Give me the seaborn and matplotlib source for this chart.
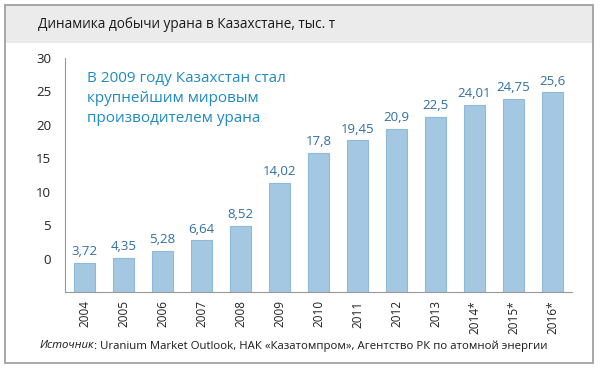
import numpy as np
import pandas as pd
import matplotlib.pyplot as plt
import seaborn as sns
from matplotlib.patches import Rectangle

# Data
years = ["2004", "2005", "2006", "2007", "2008", "2009", "2010",
         "2011", "2012", "2013", "2014*", "2015*", "2016*"]
output_kt = [3.72, 4.35, 5.28, 6.64, 8.52, 14.02, 17.8,
             19.45, 20.9, 22.5, 24.01, 24.75, 25.6]
value_labels = ["3,72", "4,35", "5,28", "6,64", "8,52", "14,02", "17,8",
                "19,45", "20,9", "22,5", "24,01", "24,75", "25,6"]
y_tick_labels = ["", "0", "5", "10", "15", "20", "25", "30"]

title = "Динамика добычи урана в Казахстане, тыс. т"
note = "В 2009 году Казахстан стал\nкрупнейшим мировым\nпроизводителем урана"
source_head = "Источник"
source_rest = ": Uranium Market Outlook, НАК «Казатомпром», Агентство РК по атомной энергии"

df = pd.DataFrame({"year": years, "value": output_kt})

sns.set_style("white")
plt.rcParams["font.family"] = ["Open Sans", "DejaVu Sans"]

fig = plt.figure(figsize=(6, 3.72), dpi=100)

# frame and title band
fig.patches.append(Rectangle((5 / 600, 1 - 43 / 372), 588 / 600, 38 / 372,
                             transform=fig.transFigure, facecolor="#ebebeb",
                             edgecolor="none", zorder=0))
fig.patches.append(Rectangle((5 / 600, 1 - 363 / 372), 588 / 600, 358 / 372,
                             transform=fig.transFigure, facecolor="none",
                             edgecolor="#a0a0a0", linewidth=1.3, zorder=1))

ax = fig.add_axes([65 / 600, 80 / 372, 507 / 600, 234 / 372])
sns.barplot(data=df, x="year", y="value", color="#a5c8e2", width=0.54,
            saturation=1, edgecolor="#8fb9da", linewidth=0.8, ax=ax)

ax.set_xlim(-0.5, len(years) - 0.5)
ax.set_ylim(0, 30)
ax.set_yticks(np.linspace(0, 30, 8))
ax.set_yticklabels(y_tick_labels, fontsize=9.5, color="#222222")
ax.set_xticks(range(len(years)))
ax.set_xticklabels(years, rotation=90, fontsize=8.5, color="#222222")
ax.set_xticks(np.arange(-0.5, len(years)), minor=True)
ax.tick_params(axis="x", which="major", length=0, pad=6)
ax.tick_params(axis="x", which="minor", length=4, color="#999999", width=0.8)
ax.tick_params(axis="y", length=4, color="#999999", width=0.8, pad=6)
ax.set_xlabel("")
ax.set_ylabel("")

for side in ["top", "right"]:
    ax.spines[side].set_visible(False)
for side in ["left", "bottom"]:
    ax.spines[side].set_color("#999999")
    ax.spines[side].set_linewidth(0.8)

for i, (v, lab) in enumerate(zip(output_kt, value_labels)):
    ax.text(i, v + 0.6, lab, ha="center", va="bottom", fontsize=9.5,
            color="#2f6fa6")

fig.text(87 / 600, 1 - 71 / 372, note, fontsize=11, color="#1f8ac4",
         va="top", ha="left", linespacing=1.45)

fig.text(38 / 600, 1 - 24 / 372, title, fontsize=9.8, color="#1a1a1a",
         va="center", ha="left")

head = fig.text(40 / 600, 1 - 346 / 372, source_head, fontsize=8.2,
                style="italic", color="#1a1a1a", va="center", ha="left")
renderer = fig.canvas.get_renderer()
bb = head.get_window_extent(renderer=renderer)
fig.text(bb.x1 / fig.bbox.width, 1 - 346 / 372, source_rest, fontsize=8.2,
         color="#1a1a1a", va="center", ha="left")

fig.savefig("out.png", dpi=100)
